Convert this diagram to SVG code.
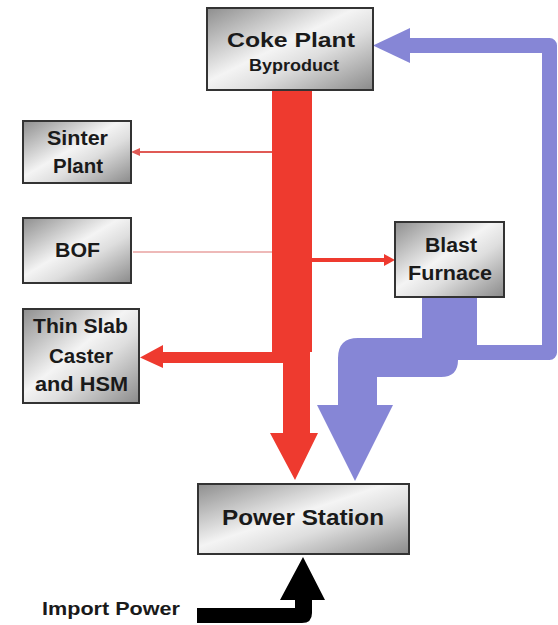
<svg xmlns="http://www.w3.org/2000/svg" width="558" height="625" viewBox="0 0 558 625">
<style>
  .box { fill: url(#metal); stroke: #333; stroke-width: 2; }
  .lbl { font-family: "Liberation Sans", Arial, sans-serif; font-weight: bold; fill: #1a1a1a; text-anchor: middle; }
  .red { fill: #ee3a2f; }
  .blue { fill: #8686d6; }
</style>
<defs>
  <linearGradient id="metal" x1="0" y1="0" x2="1" y2="1">
    <stop offset="0" stop-color="#8e8e8e"/>
    <stop offset="0.45" stop-color="#f4f4f4"/>
    <stop offset="0.62" stop-color="#dedede"/>
    <stop offset="1" stop-color="#8a8a8a"/>
  </linearGradient>
</defs>
<rect width="558" height="625" fill="#ffffff"/>

<g id="connectors">
  <!-- blue return loop to coke plant -->
  <path d="M 470 352.5 H 549.5 V 45.5 H 405" fill="none" stroke="#8686d6" stroke-width="15" stroke-linejoin="round"/>
  <polygon class="blue" points="410,28 373,45.5 410,63"/>
  <!-- blue from blast furnace to power station -->
  <path class="blue" d="M 422 297 H 477 V 360 H 458 Q 458 377 441 377 H 377 V 405 H 393 L 355 481 L 317 405 H 338 V 358 Q 338 338 358 338 H 422 Z"/>
  <!-- red trunk -->
  <path class="red" d="M 272 90 H 312 V 352 H 310 V 433 H 318 L 295 480 L 270 433 H 283 V 363 H 272 Z"/>
  <!-- thin slab branch -->
  <path class="red" d="M 283 352 V 363 H 163 V 368 L 140 357.5 L 163 345 V 352 Z"/>
  <!-- sinter line -->
  <line x1="272" y1="152" x2="138" y2="152" stroke="#e05a55" stroke-width="2"/>
  <polygon points="131,152 140,148 140,156" fill="#e05a55"/>
  <!-- BOF line -->
  <line x1="133" y1="252" x2="272" y2="252" stroke="#e9a2a0" stroke-width="1.6"/>
  <!-- blast furnace line -->
  <line x1="312" y1="260" x2="386" y2="260" stroke="#ee3a2f" stroke-width="4"/>
  <polygon class="red" points="395,260 384,254 384,266"/>
  <!-- import power -->
  <path fill="#000" d="M 197 608 H 295 V 600 H 280 L 303 557 L 325 600 H 312 V 613 Q 312 623 302 623 H 197 Z"/>
</g>

<g id="coke-plant">
  <rect class="box" x="207" y="8" width="166" height="82"/>
  <text class="lbl" x="291" y="47" font-size="21" textLength="128" lengthAdjust="spacingAndGlyphs">Coke Plant</text>
  <text class="lbl" x="294" y="71" font-size="16" textLength="90" lengthAdjust="spacingAndGlyphs">Byproduct</text>
</g>
<g id="sinter-plant">
  <rect class="box" x="23" y="121" width="108" height="62"/>
  <text class="lbl" x="77.5" y="145" font-size="20" textLength="61" lengthAdjust="spacingAndGlyphs">Sinter</text>
  <text class="lbl" x="78" y="173" font-size="20" textLength="50" lengthAdjust="spacingAndGlyphs">Plant</text>
</g>
<g id="bof">
  <rect class="box" x="23" y="218" width="108" height="65"/>
  <text class="lbl" x="77.5" y="257" font-size="20" textLength="45" lengthAdjust="spacingAndGlyphs">BOF</text>
</g>
<g id="thin-slab">
  <rect class="box" x="23" y="309" width="116" height="94"/>
  <text class="lbl" x="80.5" y="333" font-size="20" textLength="95" lengthAdjust="spacingAndGlyphs">Thin Slab</text>
  <text class="lbl" x="81" y="363" font-size="20" textLength="64" lengthAdjust="spacingAndGlyphs">Caster</text>
  <text class="lbl" x="81.5" y="391" font-size="20" textLength="93" lengthAdjust="spacingAndGlyphs">and HSM</text>
</g>
<g id="blast-furnace">
  <rect class="box" x="395" y="222" width="109" height="75"/>
  <text class="lbl" x="451" y="252" font-size="20" textLength="52" lengthAdjust="spacingAndGlyphs">Blast</text>
  <text class="lbl" x="450" y="280" font-size="20" textLength="84" lengthAdjust="spacingAndGlyphs">Furnace</text>
</g>
<g id="power-station">
  <rect class="box" x="198" y="484" width="211" height="70"/>
  <text class="lbl" x="303" y="525" font-size="22" textLength="162" lengthAdjust="spacingAndGlyphs">Power Station</text>
</g>
<g id="import-power">
  <text class="lbl" x="111" y="615" font-size="18" textLength="138" lengthAdjust="spacingAndGlyphs">Import Power</text>
</g>
</svg>
